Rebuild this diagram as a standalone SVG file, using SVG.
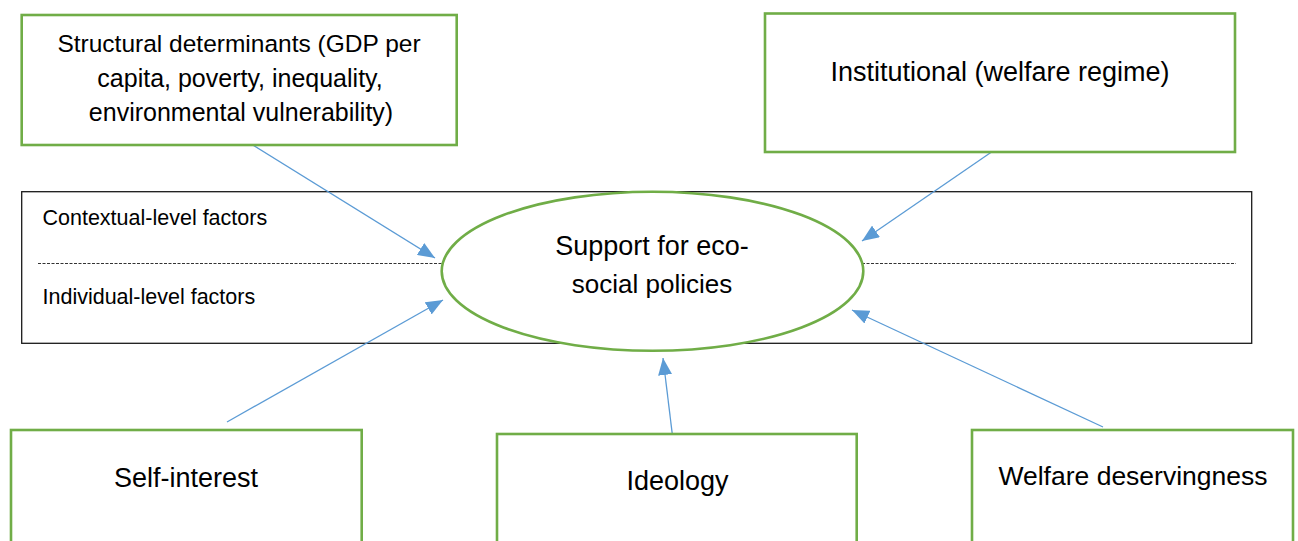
<svg xmlns="http://www.w3.org/2000/svg" width="1298" height="541" viewBox="0 0 1298 541">
  <style>
    .box { fill: #ffffff; stroke: #70AD47; stroke-width: 2.6; }
    .oval { fill: #ffffff; stroke: #70AD47; stroke-width: 2.6; }
    .frame { fill: none; stroke: #1a1a1a; stroke-width: 1.3; }
    .divider { stroke: #333333; stroke-width: 1.2; stroke-dasharray: 3 1.5; fill: none; }
    .link { stroke: #5B9BD5; stroke-width: 1.3; fill: none; marker-end: url(#arrow); }
    text { font-family: "Liberation Sans", Arial, sans-serif; fill: #000000; }
    .label { text-anchor: middle; }
    .level { font-size: 21.5px; }
  </style>
  <defs>
    <marker id="arrow" markerUnits="userSpaceOnUse" markerWidth="18" markerHeight="14" refX="17" refY="7" orient="auto">
      <path d="M0,0 L17,7 L0,14 z" fill="#5B9BD5"/>
    </marker>
  </defs>

  <rect width="1298" height="541" fill="#ffffff"/>

  <!-- contextual / individual frame -->
  <g id="levels">
    <rect class="frame" x="21.7" y="191.7" width="1230" height="151.6"/>
    <line class="divider" x1="38" y1="263.5" x2="444" y2="263.5"/>
    <line class="divider" x1="862" y1="263.5" x2="1236" y2="263.5"/>
    <text class="level" x="42.5" y="225">Contextual-level factors</text>
    <text class="level" x="42.5" y="304">Individual-level factors</text>
  </g>

  <!-- connectors -->
  <g id="connectors">
    <line class="link" x1="248" y1="142" x2="435" y2="258"/>
    <line class="link" x1="993" y1="151" x2="862" y2="241"/>
    <line class="link" x1="227" y1="422" x2="443" y2="300"/>
    <line class="link" x1="673" y1="440" x2="663" y2="358"/>
    <line class="link" x1="1103" y1="427" x2="852" y2="310"/>
  </g>

  <g id="support">
    <ellipse class="oval" cx="652.5" cy="271.3" rx="210.8" ry="79.5"/>
    <text class="label" x="652" y="255" font-size="27">Support for eco-</text>
    <text class="label" x="652" y="293" font-size="26">social policies</text>
  </g>

  <g id="structural">
    <rect class="box" x="21.7" y="15" width="435" height="130"/>
    <text class="label" x="239" y="52" font-size="24.5">Structural determinants (GDP per</text>
    <text class="label" x="240" y="87" font-size="25">capita, poverty, inequality,</text>
    <text class="label" x="241" y="121" font-size="25">environmental vulnerability)</text>
  </g>

  <g id="institutional">
    <rect class="box" x="765" y="13.5" width="470" height="138.5"/>
    <text class="label" x="1000" y="81" font-size="27">Institutional (welfare regime)</text>
  </g>

  <g id="self-interest">
    <rect class="box" x="11" y="430" width="350.7" height="130"/>
    <text class="label" x="186" y="487" font-size="27">Self-interest</text>
  </g>

  <g id="ideology">
    <rect class="box" x="497" y="434" width="359.7" height="130"/>
    <text class="label" x="677.5" y="490" font-size="27">Ideology</text>
  </g>

  <g id="deservingness">
    <rect class="box" x="972" y="430" width="321" height="130"/>
    <text class="label" x="1133" y="485" font-size="26.5">Welfare deservingness</text>
  </g>
</svg>
